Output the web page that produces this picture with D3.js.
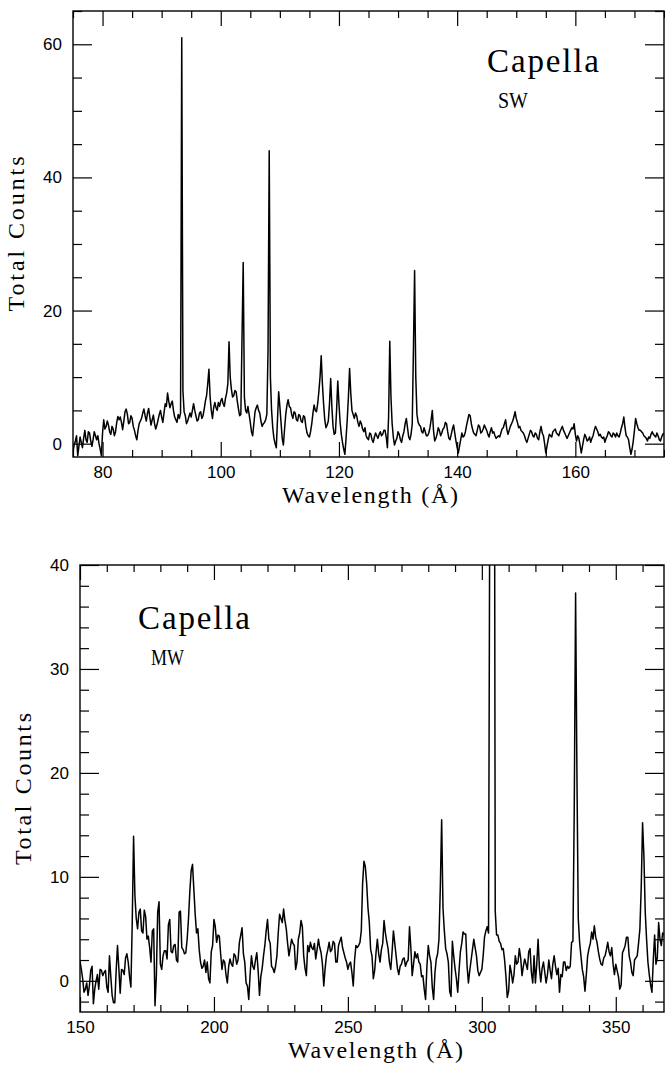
<!DOCTYPE html>
<html>
<head>
<meta charset="utf-8">
<script src="https://cdn.jsdelivr.net/npm/d3@7"></script>
<style>
  html, body { margin: 0; padding: 0; background: #fff; }
  svg { display: block; }
  .tick text { font-family: "Liberation Sans", Arial, sans-serif; font-size: 17px; fill: #000; }
  .tick line { stroke: #000; stroke-width: 1.2; }
  .ttl { font-family: "Liberation Serif", "Times New Roman", serif; fill: #000; }
</style>
</head>
<body>
<svg id="chart" width="665" height="1067"></svg>
<script>
// ---------------- DATA ----------------
// SW spectrum: wavelength grid start/step (Å), total counts
const swStart = 75, swStep = 0.2;
const swCounts = [
  -1.2, -0.2, 0.4, 1.2, -1.8, -0.4, 1.0, 0.2, -0.6, 0.8, 2.0, 0.6, 0.2, 1.8, 1.6, 0.4, -0.4, 0.6, 1.8, 1.2,
  0.6, 1.2, 0.0, -0.8, -1.8, 1.6, 3.6, 2.2, 2.6, 3.4, 2.8, 1.8, 1.4, 2.6, 2.2, 1.2, 1.8, 3.2, 4.1, 3.6,
  4.0, 3.2, 2.1, 3.4, 4.8, 5.2, 4.4, 3.0, 3.2, 4.2, 3.8, 2.6, 2.0, 1.2, 0.6, 2.0, 3.0, 3.4, 3.8, 4.6,
  5.2, 4.2, 3.4, 4.6, 5.3, 4.0, 2.8, 3.6, 4.3, 3.0, 2.2, 2.8, 3.6, 4.4, 5.0, 4.0, 3.2, 4.6, 6.0, 5.6,
  7.6, 6.4, 5.4, 6.0, 6.4, 5.0, 4.0, 3.6, 3.2, 4.4, 3.8, 4.6, 61.0, 8.0, 4.8, 4.2, 3.0, 3.4, 4.0, 4.6,
  4.0, 5.0, 6.0, 5.0, 4.2, 3.4, 3.6, 4.6, 4.8, 3.8, 4.2, 5.2, 6.4, 7.2, 9.0, 11.2, 7.0, 5.0, 3.8, 5.4,
  6.2, 5.4, 5.0, 6.2, 5.6, 6.4, 6.8, 6.0, 5.6, 6.8, 7.6, 9.0, 15.3, 10.0, 8.2, 7.0, 7.2, 8.0, 7.8, 6.4,
  5.2, 4.2, 4.4, 16.0, 27.2, 7.0, 5.0, 4.6, 5.6, 4.4, 3.2, 1.8, 1.2, 3.0, 4.8, 5.4, 5.8, 5.0, 4.6, 3.4,
  2.6, 3.0, 3.2, 3.6, 4.4, 14.0, 44.0, 10.0, 5.0, 2.4, 0.8, 0.0, -0.6, 3.6, 7.8, 5.6, 3.2, 0.8, -0.2, 2.2,
  4.4, 5.8, 6.6, 5.6, 5.4, 4.4, 3.8, 4.8, 4.6, 3.6, 3.4, 4.4, 4.2, 3.4, 3.2, 4.2, 4.0, 2.6, 1.6, 1.2,
  1.0, 1.8, 3.0, 4.6, 5.8, 5.0, 4.8, 6.0, 7.8, 10.0, 13.2, 9.0, 6.0, 3.6, 2.4, 2.8, 3.4, 6.0, 9.8, 5.6,
  2.6, 1.4, 1.6, 5.0, 9.4, 6.0, 3.2, 1.4, 0.2, -0.8, -1.6, 0.8, 3.6, 7.0, 11.3, 7.6, 5.0, 4.4, 3.8, 4.6,
  4.2, 3.2, 2.6, 3.4, 3.0, 2.2, 1.8, 2.4, 1.2, 0.8, 0.6, 1.6, 1.4, 0.6, 0.2, 1.0, 1.6, 1.2, 0.8, 1.4,
  1.8, 1.2, 1.4, 2.0, 2.0, 1.0, -0.6, 4.0, 15.4, 7.0, 3.0, 1.0, -0.2, 0.4, 0.8, 1.8, 1.4, 0.6, 0.2, 1.2,
  1.8, 3.0, 3.8, 2.4, 1.0, 0.6, 1.4, 3.0, 14.0, 26.0, 10.0, 4.4, 3.2, 2.8, 2.6, 1.8, 1.6, 2.4, 1.8, 1.2,
  1.2, 1.6, 2.4, 3.6, 5.0, 2.0, 0.4, 0.8, 1.4, 2.4, 2.0, 1.2, 1.6, 2.2, 2.4, 3.2, 3.0, 1.8, 0.8, 0.6,
  1.4, 2.2, 2.8, 1.6, 0.4, -0.6, -1.4, -0.4, 0.6, 1.6, 1.0, 1.2, 1.8, 2.8, 3.6, 4.4, 4.2, 3.0, 2.2, 1.6,
  1.4, 1.2, 2.0, 2.8, 2.6, 1.6, 1.8, 2.2, 2.8, 2.4, 2.0, 1.4, 1.0, 1.8, 2.4, 1.6, 1.8, 1.2, 0.8, 1.0,
  1.2, 1.0, 1.6, 2.2, 2.4, 3.0, 3.6, 2.2, 1.4, 2.0, 2.6, 3.0, 3.4, 4.0, 4.8, 3.8, 3.2, 2.4, 2.6, 2.0,
  1.8, 1.6, 1.2, 0.6, 0.2, 0.8, 1.4, 2.0, 1.8, 1.2, 1.0, 1.6, 1.4, 0.8, 0.6, 1.8, 2.6, 1.6, 1.2, 0.0,
  -1.4, -0.4, 0.6, 1.4, 1.2, 1.0, 1.8, 2.0, 2.2, 1.6, 1.4, 1.2, 1.8, 2.2, 2.6, 2.0, 1.6, 1.2, 0.8, 1.2,
  1.6, 2.0, 2.4, 2.2, 3.0, 1.4, 0.4, 1.2, 0.8, -0.2, -1.4, -0.4, 0.6, 1.4, 1.0, 0.4, 0.6, 1.0, 0.2, 0.8,
  1.2, 2.0, 2.6, 2.2, 1.8, 1.2, 1.4, 1.0, 0.8, 1.0, 0.2, 0.8, 1.2, 1.8, 1.6, 1.2, 1.0, 1.6, 1.4, 1.0,
  1.6, 1.2, 1.0, 1.6, 2.4, 3.0, 4.0, 2.4, 1.2, 1.0, 0.6, -0.6, -1.6, -0.8, 0.4, 2.0, 3.8, 3.0, 2.4, 2.0,
  2.0, 1.8, 1.6, 1.2, 1.0, 0.8, 0.4, 1.0, 0.8, 1.4, 1.8, 1.4, 1.2, 1.0, 1.6, 1.2, 0.6, 0.4, 1.0, 1.4,
  1.6
];

// MW spectrum
const mwStart = 150, mwStep = 0.5;
const mwCounts = [
  1.9, 1.1, 0.2, -1.1, -0.8, -0.2, -1.4, -0.5, 1.0, 1.4, -2.2, -0.8, 0.0, 0.6, -0.8, 1.1, 1.0, 0.5, 0.8, 1.0,
  -0.6, -1.1, 2.4, 0.4, -1.4, -2.1, -2.1, 1.0, 3.4, 1.2, -1.2, 1.1, 1.0, 0.6, 2.2, 2.6, 1.8, 0.4, -0.6, 5.6,
  13.9, 8.2, 6.0, 5.0, 6.6, 6.9, 4.8, 4.6, 6.8, 6.2, 4.0, 4.3, 3.2, 1.8, 4.8, 5.0, -2.4, 0.5, 6.6, 7.6,
  1.6, 1.1, 2.4, 2.9, 2.9, 2.1, 5.4, 5.9, 2.8, 2.7, 3.4, 3.5, 2.0, 1.8, 6.6, 6.7, 3.2, 3.0, 2.6, 2.7,
  4.0, 6.0, 8.6, 10.6, 11.2, 8.8, 6.4, 4.6, 5.0, 3.0, 1.8, 1.2, 1.4, 2.0, 0.8, 1.8, 0.2, -0.2, 2.8, 3.4,
  5.9, 5.2, 3.7, 4.4, 4.3, 2.6, 1.1, 2.0, 1.8, 0.6, -0.2, 1.4, 2.1, 1.6, 1.4, 2.6, 2.4, 1.6, 2.0, 3.7,
  4.4, 5.1, 2.6, 1.8, -0.2, -0.5, -1.8, 0.6, 2.4, 1.4, 1.1, 2.0, 2.7, 1.0, -1.4, 0.4, 1.2, 2.4, 3.4, 4.8,
  5.9, 4.0, 3.6, 1.4, 1.2, 0.8, 1.4, 2.4, 4.6, 6.4, 6.0, 5.6, 6.9, 5.8, 5.0, 3.6, 2.4, 3.2, 4.0, 3.6,
  3.4, 1.1, 1.8, 4.0, 4.6, 5.8, 5.2, 2.4, 1.2, 0.5, 3.4, 2.8, 3.7, 3.2, 3.0, 3.6, 2.1, 3.0, 4.0, 3.2,
  2.7, 1.6, -0.5, 1.2, 2.4, 3.0, 3.7, 2.8, 3.0, 3.8, 3.6, 1.8, 1.8, 3.4, 3.8, 4.2, 3.2, 2.7, 2.2, 1.8,
  1.1, 1.6, 1.8, 0.8, -0.5, 2.0, 3.4, 3.2, 3.4, 3.7, 4.8, 9.4, 11.5, 11.0, 9.4, 7.0, 5.6, 3.0, 2.4, 0.2,
  1.0, 2.7, 4.0, 2.6, 1.8, 3.0, 3.6, 5.8, 4.6, 3.8, 3.1, 1.8, 1.1, 2.8, 4.8, 3.6, 2.4, 1.2, 0.6, 1.4,
  1.6, 2.1, 2.2, 1.4, 1.8, 2.0, 5.2, 3.2, 0.5, 1.6, 2.8, 2.2, 2.6, 1.8, 1.6, 0.4, 0.5, -0.8, -1.8, 1.4,
  3.4, 2.4, 1.8, -0.6, -1.8, 0.8, 2.1, 2.6, 4.0, 9.0, 15.5, 7.0, 4.8, 3.1, 2.6, 1.8, -1.0, -1.5, 3.8, 2.4,
  1.2, 0.2, -1.1, 1.0, 2.8, 3.6, 4.7, 4.5, 4.5, 1.4, -0.2, 1.0, 2.0, 3.0, 4.0, 3.2, 2.4, 1.0, 0.5, 0.8,
  1.1, 2.4, 4.2, 4.8, 5.2, 4.6, 50.0, 100.0, 110.0, 90.0, 6.7, 4.4, 4.4, 3.8, 3.6, 3.0, 3.1, 2.0, 0.4, -1.6,
  -1.0, 1.5, 0.8, -0.2, 0.6, 2.4, 1.6, 1.8, 3.1, 2.2, 0.5, 1.4, 2.1, 1.6, 1.1, 2.8, 3.1, 0.8, -0.2, 2.4,
  -0.2, 1.6, 4.0, 1.2, -0.1, 1.2, 1.8, 0.8, -0.2, 0.6, 2.0, 1.0, 0.2, 1.6, 2.4, 1.4, 0.6, 1.2, -1.1, 0.6,
  0.4, 1.8, 1.8, 1.0, 1.4, 1.2, 1.4, 3.7, 3.8, 16.6, 37.3, 19.8, 6.0, 3.7, 2.4, 1.1, 0.4, -1.0, 0.6, 2.4,
  3.1, 3.6, 4.7, 4.0, 5.3, 4.2, 3.7, 2.8, 2.1, 1.6, 1.5, 2.2, 2.4, 3.0, 3.7, 2.8, 2.4, 3.2, 1.6, 0.6,
  1.6, 1.0, 0.4, -0.8, -0.4, 2.7, 3.0, 3.4, 4.2, 4.2, 2.4, 1.8, 0.8, 0.5, 2.0, 2.2, 2.4, 3.6, 5.0, 9.0,
  15.2, 12.0, 6.6, 4.0, 1.8, 0.6, -0.4, -1.1, 2.0, 4.4, 1.6, 2.2, 5.6, 4.0, 3.4, 4.6, 4.4
];

// Axis domains and tick values
const swDomainX = [75, 175], swDomainY = [-2, 65];
const swMajorX = [80, 100, 120, 140, 160];
const swMajorY = [0, 20, 40, 60];
const mwDomainX = [150, 368], mwDomainY = [-3, 40];
const mwMajorX = [150, 200, 250, 300, 350];
const mwMajorY = [0, 10, 20, 30, 40];

const titleX = "Wavelength (Å)";
const titleY = "Total Counts";

// ---------------- DRAW ----------------
const svg = d3.select("#chart");

function range(a, b, s) { const r = []; for (let v = a; v <= b + 1e-9; v += s) r.push(+v.toFixed(6)); return r; }

function panel(cfg) {
  const x = d3.scaleLinear(cfg.domX, [cfg.left, cfg.right]);
  const y = d3.scaleLinear(cfg.domY, [cfg.bottom, cfg.top]);
  const g = svg.append("g");
  const w = cfg.right - cfg.left, h = cfg.bottom - cfg.top;

  const minorX = range(Math.ceil(cfg.domX[0] / cfg.minX) * cfg.minX, cfg.domX[1], cfg.minX).filter(v => !cfg.majX.includes(v));
  const minorY = range(Math.ceil(cfg.domY[0] / cfg.minY) * cfg.minY, cfg.domY[1], cfg.minY).filter(v => !cfg.majY.includes(v));

  const fmt = d3.format("d");
  function ax(axisFn, scale, vals, size, withLabels, tr, pad) {
    const a = axisFn(scale).tickValues(vals).tickSize(size).tickPadding(pad || 3);
    a.tickFormat(withLabels ? fmt : "");
    const sel = g.append("g").attr("transform", tr).call(a);
    sel.select(".domain").remove();
    return sel;
  }
  ax(d3.axisBottom, x, cfg.majX, -15, true, `translate(0,${cfg.bottom})`, 8.5);
  ax(d3.axisBottom, x, minorX, -7, false, `translate(0,${cfg.bottom})`);
  ax(d3.axisTop, x, cfg.majX, -15, false, `translate(0,${cfg.top})`);
  ax(d3.axisTop, x, minorX, -7, false, `translate(0,${cfg.top})`);
  ax(d3.axisLeft, y, cfg.majY, -19, true, `translate(${cfg.left},0)`, 11);
  ax(d3.axisLeft, y, minorY, -9, false, `translate(${cfg.left},0)`);
  ax(d3.axisRight, y, cfg.majY, -19, false, `translate(${cfg.right},0)`);
  ax(d3.axisRight, y, minorY, -9, false, `translate(${cfg.right},0)`);

  g.append("rect").attr("x", cfg.left).attr("y", cfg.top).attr("width", w).attr("height", h)
    .attr("fill", "none").attr("stroke", "#000").attr("stroke-width", 1.4);

  const clipId = "clip" + cfg.id;
  svg.append("clipPath").attr("id", clipId).append("rect")
    .attr("x", cfg.left).attr("y", cfg.top).attr("width", w).attr("height", h);
  const pts = cfg.counts.map((c, i) => ({ w: cfg.start + i * cfg.step, c }));
  g.append("path").datum(pts).attr("clip-path", `url(#${clipId})`)
    .attr("d", d3.line().x(d => x(d.w)).y(d => y(d.c)))
    .attr("fill", "none").attr("stroke", "#000").attr("stroke-width", 1.5).attr("stroke-linejoin", "round");

  g.append("text").attr("class", "ttl").attr("x", cfg.xt[0]).attr("y", cfg.xt[1])
    .attr("font-size", 24).attr("textLength", cfg.xt[2]).attr("lengthAdjust", "spacing").text(titleX);
  g.append("text").attr("class", "ttl").attr("text-anchor", "middle")
    .attr("transform", `translate(${cfg.yt[0]},${cfg.yt[1]}) rotate(-90)`)
    .attr("font-size", 24).attr("textLength", cfg.yt[2]).attr("lengthAdjust", "spacing").text(titleY);
  g.append("text").attr("class", "ttl").attr("x", cfg.name[0]).attr("y", cfg.name[1])
    .attr("font-size", 33).attr("textLength", cfg.name[2]).attr("lengthAdjust", "spacing").text("Capella");
  g.append("text").attr("class", "ttl").attr("x", cfg.sub[0]).attr("y", cfg.sub[1])
    .attr("font-size", 23).attr("textLength", cfg.sub[2]).attr("lengthAdjust", "spacingAndGlyphs").text(cfg.sub[3]);
}

panel({
  id: "sw", left: 73, right: 664, top: 11, bottom: 457,
  domX: swDomainX, domY: swDomainY, majX: swMajorX, majY: swMajorY, minX: 5, minY: 5,
  start: swStart, step: swStep, counts: swCounts,
  xt: [282, 503, 176], yt: [24, 234, 155],
  name: [487, 72, 112], sub: [498, 108, 30, "SW"]
});

panel({
  id: "mw", left: 80, right: 664, top: 565, bottom: 1012,
  domX: mwDomainX, domY: mwDomainY, majX: mwMajorX, majY: mwMajorY, minX: 10, minY: 2,
  start: mwStart, step: mwStep, counts: mwCounts,
  xt: [288, 1058, 175], yt: [31, 789, 152],
  name: [138, 628.5, 112], sub: [151, 665, 33, "MW"]
});
</script>
</body>
</html>
